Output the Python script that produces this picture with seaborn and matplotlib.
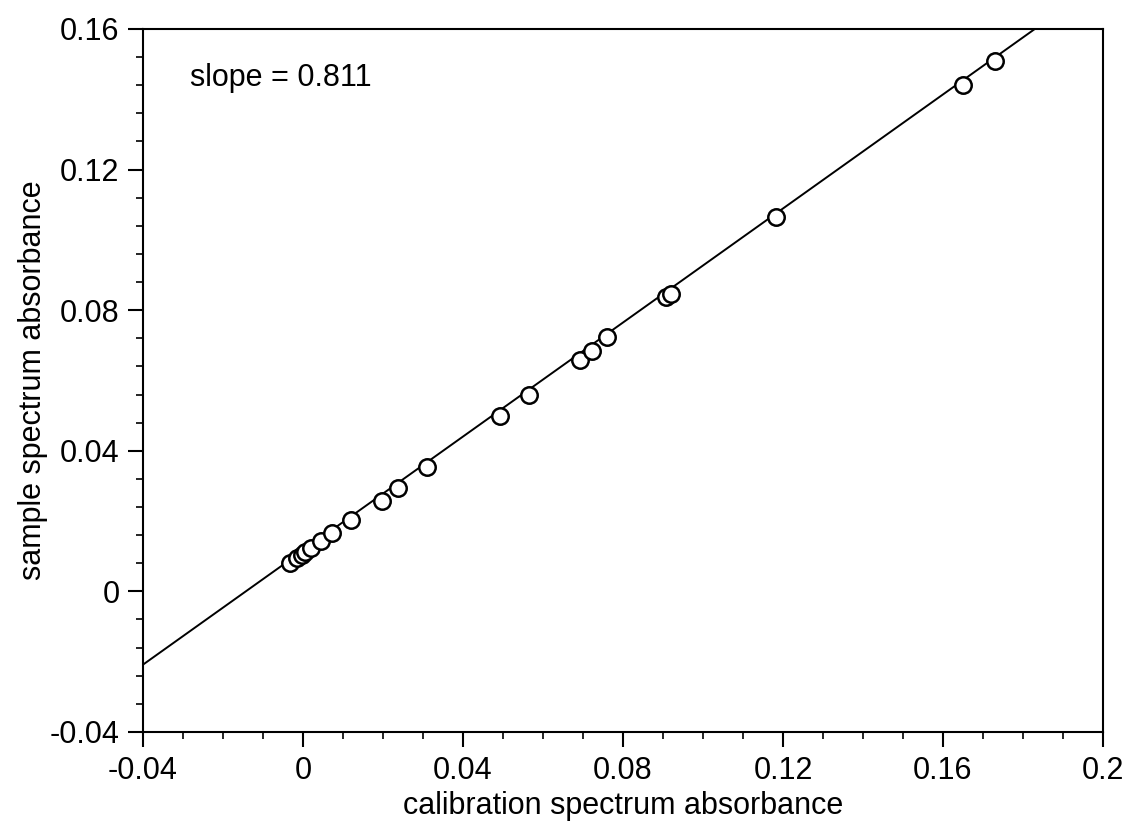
import numpy as np
import pandas as pd
import matplotlib
matplotlib.use("Agg")
import matplotlib.pyplot as plt
from matplotlib.ticker import MultipleLocator
import seaborn as sns

# values
calib = [-0.00325, -0.0016, -0.0003, 0.0005, 0.0020, 0.0045, 0.0072, 0.0119,
         0.0197, 0.0238, 0.0309, 0.0493, 0.0565, 0.0693, 0.0723, 0.0760,
         0.0908, 0.0920, 0.1183, 0.1650, 0.1730]
sample = [0.0081, 0.0095, 0.0104, 0.0112, 0.0122, 0.0142, 0.0166, 0.0202,
          0.0258, 0.0294, 0.0353, 0.0498, 0.0558, 0.0658, 0.0683, 0.0723,
          0.0837, 0.0846, 0.1065, 0.1440, 0.1510]
slope = 0.811
intercept = 0.0116

df = pd.DataFrame({"calib": calib, "sample": sample})

sns.set_theme(style="ticks")
plt.rcParams["font.family"] = ["Liberation Sans", "DejaVu Sans"]
plt.rcParams["text.color"] = "black"
plt.rcParams["axes.labelcolor"] = "black"

fig = plt.figure(figsize=(11.37, 8.35), dpi=100)
ax = fig.add_axes([0.1258, 0.1234, 0.8442, 0.8419])

ax.axline((0, intercept), slope=slope, color="black", lw=1.4, zorder=1)
sns.scatterplot(data=df, x="calib", y="sample", ax=ax, marker="o", s=140,
                facecolor="white", edgecolor="black", linewidth=1.8, zorder=2)

ax.set_xlim(-0.04, 0.2)
ax.set_ylim(-0.04, 0.16)
ax.xaxis.set_minor_locator(MultipleLocator(0.01))
ax.yaxis.set_minor_locator(MultipleLocator(0.008))

def fmt(v):
    s = f"{v:.2f}".rstrip("0").rstrip(".")
    return "0" if s in ("0", "-0") else s

xt = np.arange(-0.04, 0.2001, 0.04)
yt = np.arange(-0.04, 0.1601, 0.04)
ax.set_xticks(xt)
ax.set_xticklabels([fmt(v) for v in xt])
ax.set_yticks(yt)
ax.set_yticklabels([fmt(v) for v in yt])

ax.tick_params(which="major", direction="out", length=11, width=1.5,
               labelsize=22, colors="black", pad=6)
ax.tick_params(which="minor", direction="out", length=5, width=1.2, colors="black")
for sp in ax.spines.values():
    sp.set_visible(True)
    sp.set_linewidth(1.5)
    sp.set_color("black")

ax.set_xlabel("calibration spectrum absorbance", fontsize=22, labelpad=4)
ax.set_ylabel("sample spectrum absorbance", fontsize=22, labelpad=1)
ax.text(-0.0283, 0.146, "slope = 0.811", fontsize=22, va="center", ha="left")

fig.savefig("out.png", dpi=100)
